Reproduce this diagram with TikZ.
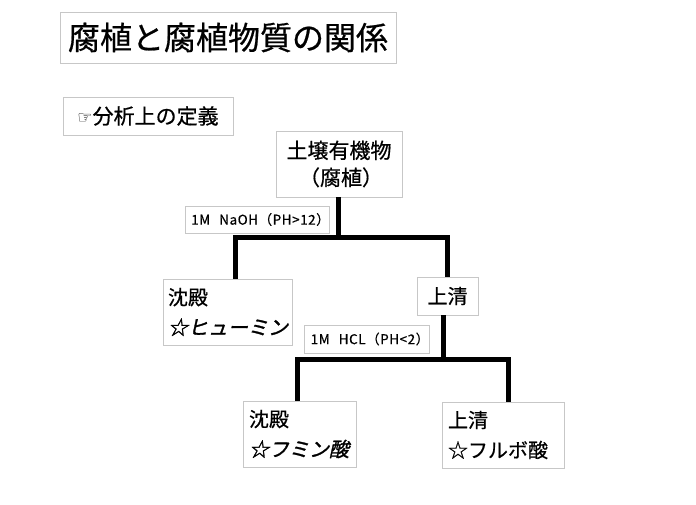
\documentclass[tikz,border=0pt]{standalone}
\usepackage{fontspec}
\newfontfamily\jpfont{Noto Sans CJK JP}[FakeBold=0.6]
\newfontfamily\jpsmall{Noto Sans CJK JP}[FakeBold=0.4,LetterSpace=4]
\newfontfamily\jpit{Noto Sans CJK JP}[FakeSlant=0.22,FakeBold=1.4]
\newfontfamily\symfont{DejaVu Sans}
\tikzset{
	box/.style={draw=black!22, line width=0.8pt, fill=white, inner sep=0pt, font=\jpfont},
	label box/.style={box, font=\jpsmall\fontsize{13.5}{16}\selectfont},
	bar/.style={line width=5pt, line cap=butt},
}

\begin{document}
\begin{tikzpicture}[x=1pt, y=-1pt]
	\useasboundingbox[fill=white] (0,0) rectangle (696,504);
	\node[box, minimum width=336pt, minimum height=51pt, font=\jpfont\fontsize{32}{36}\selectfont] (title) at (228,37.5) {腐植と腐植物質の関係};
	\node[box, minimum width=170pt, minimum height=38pt, font=\jpfont\fontsize{21}{24}\selectfont] (defn) at (148,116) {{\symfont\fontsize{17}{20}\selectfont ☞}分析上の定義};
	\node[box, minimum width=126pt, minimum height=66pt, align=center, font=\jpfont\fontsize{21}{27}\selectfont] (soil) at (339,164) {土壌有機物\\ \hspace{4pt}（腐植）};
	\node[label box, minimum width=141pt, minimum height=27pt] (naoh) at (257.5,219.5) {\hspace{6pt}1M\hspace{9pt}NaOH（PH>12）};
	\node[box, minimum width=129pt, minimum height=66pt, text width=119pt, inner xsep=5pt, align=left, font=\jpfont\fontsize{20}{30}\selectfont] (sed1) at (227.5,312) {沈殿\\ {\jpit ☆ヒューミン}};
	\node[box, minimum width=61pt, minimum height=38pt, font=\jpfont\fontsize{20}{24}\selectfont] (sup1) at (447.5,296) {上清};
	\node[label box, minimum width=120pt, minimum height=28pt] (hcl) at (367,339) {\hspace{6pt}1M\hspace{9pt}HCL（PH<2）};
	\node[box, minimum width=113pt, minimum height=66pt, text width=101pt, inner xsep=6pt, align=left, font=\jpfont\fontsize{20}{30}\selectfont] (sed2) at (299.5,434) {沈殿\\ {\jpit ☆フミン酸}};
	\node[box, minimum width=122pt, minimum height=66pt, text width=110pt, inner xsep=6pt, align=left, font=\jpfont\fontsize{20}{30}\selectfont] (sup2) at (503,435) {上清\\ ☆フルボ酸};
	\coordinate (split1) at (338,237);
	\coordinate (split2) at (443,359);
	\draw[bar] (soil.south -| split1) -- (split1);
	\draw[bar] ([xshift=8pt]sed1.north) |- (split1) -| (sup1.north);
	\draw[bar] (sup1.south -| split2) -- (split2);
	\draw[bar] ([xshift=-2pt]sed2.north) |- (split2) -| ([xshift=5pt]sup2.north);
\end{tikzpicture}
\end{document}
